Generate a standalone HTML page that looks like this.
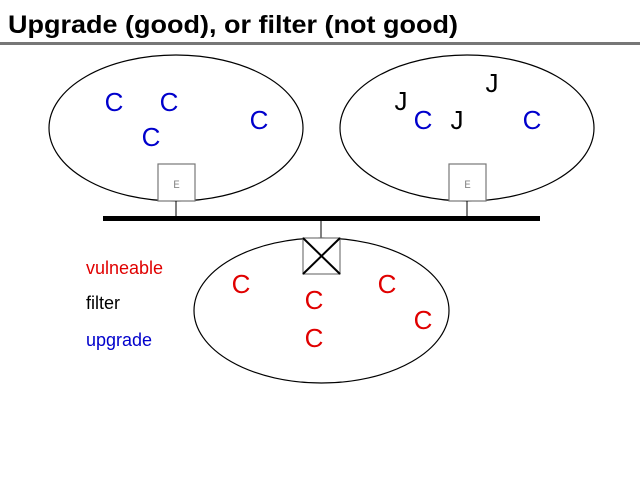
<!DOCTYPE html>
<html><head><style>body{margin:0;background:#fff}svg{display:block}</style></head><body>
<svg width="640" height="480" xmlns="http://www.w3.org/2000/svg" font-family="Liberation Sans, Arial, sans-serif">
<text x="8" y="33" font-size="25" font-weight="bold" textLength="450" lengthAdjust="spacingAndGlyphs">Upgrade (good), or filter (not good)</text>
<rect x="0" y="42" width="640" height="3" fill="#777"/>
<ellipse cx="176" cy="128" rx="127" ry="73" fill="none" stroke="#000" stroke-width="1.2"/>
<ellipse cx="467" cy="128" rx="127" ry="73" fill="none" stroke="#000" stroke-width="1.2"/>
<ellipse cx="321.5" cy="310.5" rx="127.5" ry="72.5" fill="none" stroke="#000" stroke-width="1.2"/>
<rect x="158" y="164" width="37" height="37" fill="#fff" stroke="#777" stroke-width="1.2"/>
<rect x="449" y="164" width="37" height="37" fill="#fff" stroke="#777" stroke-width="1.2"/>
<text x="176.5" y="188" font-family="Liberation Mono, monospace" font-size="11" fill="#888" text-anchor="middle">E</text>
<text x="467.5" y="188" font-family="Liberation Mono, monospace" font-size="11" fill="#888" text-anchor="middle">E</text>
<line x1="176" y1="201" x2="176" y2="217" stroke="#000"/>
<line x1="467" y1="201" x2="467" y2="217" stroke="#000"/>
<line x1="321" y1="220" x2="321" y2="238" stroke="#000"/>
<rect x="103" y="216" width="437" height="5" fill="#000"/>
<rect x="303" y="238" width="37" height="36" fill="#fff" stroke="#777" stroke-width="1.2"/>
<line x1="303" y1="238" x2="340" y2="274" stroke="#000" stroke-width="2"/>
<line x1="340" y1="238" x2="303" y2="274" stroke="#000" stroke-width="2"/>
<g font-size="26" fill="#0000cc" text-anchor="middle">
<text x="114" y="111">C</text><text x="169" y="111">C</text><text x="151" y="146">C</text><text x="259" y="129">C</text>
<text x="423" y="129">C</text><text x="532" y="129">C</text>
</g>
<g font-size="26" fill="#000" text-anchor="middle">
<text x="401" y="110">J</text><text x="457" y="129">J</text><text x="492" y="92">J</text>
</g>
<g font-size="26" fill="#e00000" text-anchor="middle">
<text x="241" y="293">C</text><text x="314" y="309">C</text><text x="314" y="347">C</text><text x="387" y="293">C</text><text x="423" y="329">C</text>
</g>
<text x="86" y="274" font-size="18" fill="#e00000">vulneable</text>
<text x="86" y="309" font-size="18" fill="#000">filter</text>
<text x="86" y="346" font-size="18" fill="#0000cc">upgrade</text>
</svg>
</body></html>
